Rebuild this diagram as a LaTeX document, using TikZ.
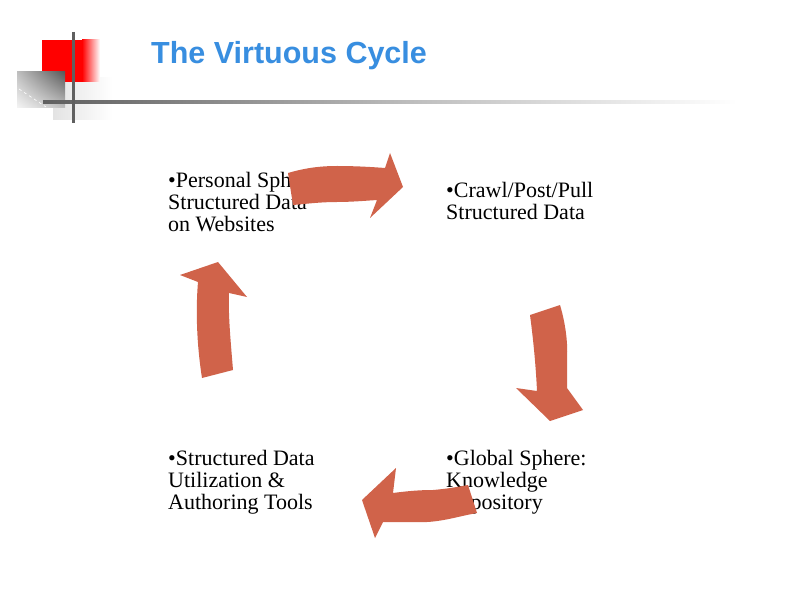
\documentclass[tikz,border=0pt]{standalone}
\usepackage{fontspec}
\usetikzlibrary{shadings}
\newfontfamily\bodyfont{Liberation Serif}
\newfontfamily\titlefont{Liberation Sans}
\definecolor{arrowc}{RGB}{208,99,74}
\definecolor{titleblue}{RGB}{56,142,224}
\definecolor{logoline}{RGB}{95,95,95}
\begin{document}
\begin{tikzpicture}[x=1pt,y=-1pt,
  bodytext/.style={font=\bodyfont\fontsize{22}{22}\selectfont, align=left, anchor=north west, inner sep=0pt},
  blockarrow/.style={fill=arrowc}]
\useasboundingbox[fill=white] (0,0) rectangle (791,593);
% logo
\shade[left color=gray!22, right color=white] (53,78) rectangle (113,120);
\fill[red] (42,40) rectangle (82,82);
\shade[left color=red, right color=white] (82,40) rectangle (100,82);
\shade[upper left=gray!50, upper right=black!65, lower left=gray!8, lower right=gray!50] (17,72) rectangle (65,108);
\draw[white, dashed, line width=0.6pt] (19,89) -- (46,107);
\shade[left color=logoline, right color=gray!50] (43,100.5) rectangle (420,103.5);
\shade[left color=gray!50, right color=white] (420,100.5) rectangle (737,103.5);
\draw[logoline, line width=3pt] (73,32) -- (73,123);
% title
\node[anchor=base west, inner sep=0pt, text=titleblue, font=\titlefont\bfseries\fontsize{30.5}{31}\selectfont] (title) at (151,64) {The Virtuous Cycle};
% texts
\node[bodytext] (personal) at (168,172) {•Personal Sphere:\\Structured Data\\on Websites};
\node[bodytext] (crawl) at (446,182) {•Crawl/Post/Pull\\Structured Data};
\node[bodytext] (utilization) at (168,450) {•Structured Data\\Utilization \&\\Authoring Tools};
\node[bodytext] (global) at (446,450) {•Global Sphere:\\Knowledge\\Repository};
% arrows
\fill[blockarrow] (288,173) .. controls (305,168) and (320,166) .. (337,166) .. controls (355,166) and (372,167) .. (385,168) -- (390,153) -- (403,187) -- (370,218) -- (377,200) .. controls (362,201) and (350,202) .. (337,202) .. controls (320,202) and (305,204) .. (293,205) -- cycle;
\fill[blockarrow] (530,315) -- (560,305) .. controls (566,325) and (568,345) .. (567,360) .. controls (567,372) and (567,380) .. (567,388) -- (583,410) -- (550,421) -- (516,388) -- (537,391) .. controls (536,370) and (534,345) .. (530,315) -- cycle;
\fill[blockarrow] (468,485) -- (477,513) .. controls (460,516) and (445,521) .. (427,522) .. controls (410,522) and (395,522) .. (383,522) -- (375,538) -- (362,500) -- (396,468) -- (393,493) .. controls (408,491) and (420,490) .. (433,490) .. controls (445,489) and (458,487) .. (468,485) -- cycle;
\fill[blockarrow] (202,378) -- (233,370) .. controls (231,345) and (228,315) .. (229,293) -- (247,297) -- (218,262) -- (180,275) -- (198,282) .. controls (196,305) and (196,340) .. (202,378) -- cycle;
\end{tikzpicture}
\end{document}
